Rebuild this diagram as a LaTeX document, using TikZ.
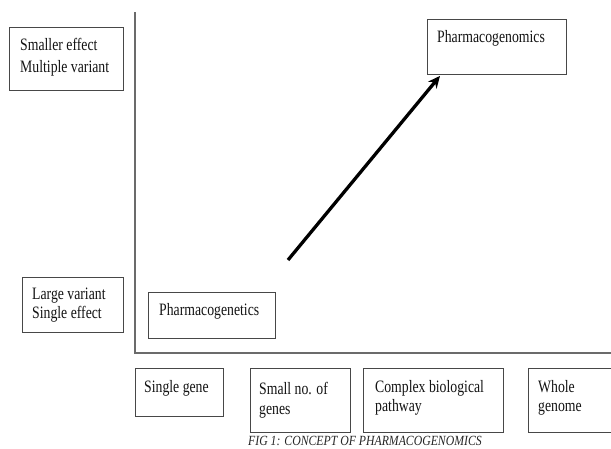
\documentclass[tikz,border=0pt]{standalone}
\usepackage{fontspec}
\setmainfont[FakeStretch=0.79]{Liberation Serif}
\newfontfamily\capfont[FakeStretch=0.84]{Liberation Serif}
\usetikzlibrary{arrows.meta}
\newcommand{\twoln}[3]{\vtop{\baselineskip=#1pt\hbox{#2}\hbox{#3}}}
\begin{document}
\begin{tikzpicture}[x=1pt,y=-1pt,
  box/.style={draw=black!72,line width=0.9pt,rectangle,inner sep=0pt,anchor=north west},
  lbl/.style={anchor=base west,inner sep=0pt,font=\fontsize{17.4}{20}\selectfont,text=black!92},
  axisline/.style={draw=black!58,line width=1.6pt},
  bigarrow/.style={line width=3.3pt,-{Stealth[length=12pt,width=11pt]}}
]
\useasboundingbox[fill=white] (0,0) rectangle (611,448);

% axes
\coordinate (ytop) at (135,12);
\coordinate (orig) at (135,353);
\coordinate (xend) at (611,353);
\draw[axisline] (ytop) -- (orig) -- (xend);

% left boxes
\node[box,minimum width=114,minimum height=63] (smb) at (9,27) {};
\node[lbl] (smt) at (20,50) {\twoln{22}{Smaller effect}{Multiple variant}};
\node[box,minimum width=101,minimum height=55] (lvb) at (22,277) {};
\node[lbl] (lvt) at (32,299) {\twoln{19.5}{Large variant}{Single effect}};

% inner boxes
\node[box,minimum width=139,minimum height=55] (pgm) at (427,19) {};
\node[lbl] (pgmt) at (437,42) {Pharmacogenomics};
\node[box,minimum width=127,minimum height=46] (pgt) at (148,292) {};
\node[lbl] (pgtt) at (159,315) {Pharmacogenetics};

% arrow
\coordinate (astart) at (288,260);
\draw[bigarrow] (astart) -- ([xshift=13pt,yshift=-1pt]pgm.south west);

% bottom boxes
\node[box,minimum width=88,minimum height=48] (sgb) at (135,368) {};
\node[lbl] (sgt) at (144,392) {Single gene};
\node[box,minimum width=100,minimum height=64] (snb) at (250,368) {};
\node[lbl] (snt) at (259,394) {\twoln{20}{Small no. of}{genes}};
\node[box,minimum width=140,minimum height=64] (cbb) at (363,368) {};
\node[lbl] (cbt) at (375,392) {\twoln{19}{Complex biological}{pathway}};
\node[box,minimum width=95,minimum height=64] (wgb) at (528,368) {};
\node[lbl] (wgt) at (538,392) {\twoln{19}{Whole}{genome}};

% caption
\node[anchor=base west,inner sep=0pt,font=\capfont\fontsize{14}{16}\selectfont\itshape,text=black!85] (cap) at (248,445) {FIG 1: CONCEPT OF PHARMACOGENOMICS};
\end{tikzpicture}
\end{document}
